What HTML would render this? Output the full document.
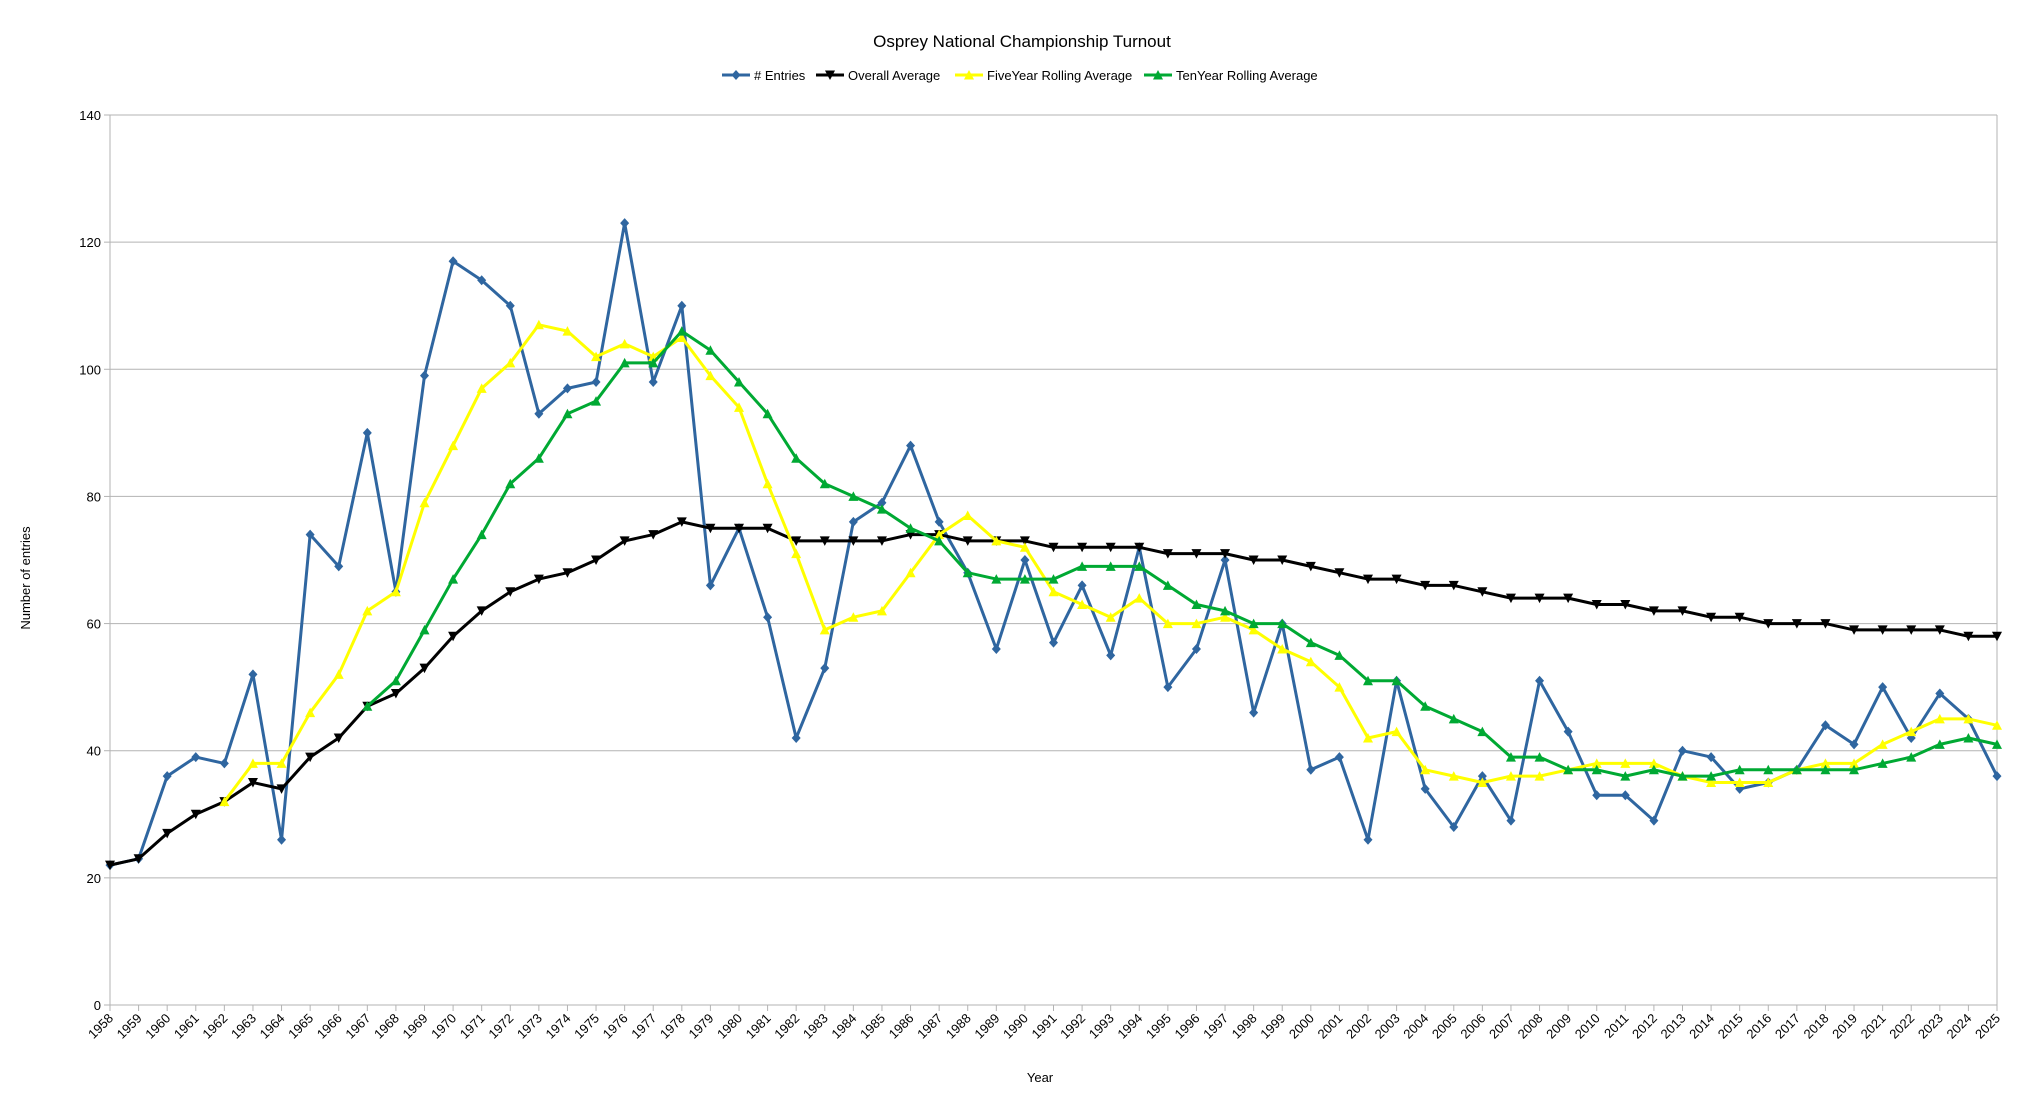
<!DOCTYPE html>
<html><head><meta charset="utf-8"><title>Osprey National Championship Turnout</title>
<style>html,body{margin:0;padding:0;background:#fff;}svg{display:block;font-family:"Liberation Sans",Arial,sans-serif;}</style>
</head><body>
<svg id="chart" width="2044" height="1105" viewBox="0 0 2044 1105" xmlns="http://www.w3.org/2000/svg">
<text x="1022" y="47" font-size="17" text-anchor="middle" fill="#000">Osprey National Championship Turnout</text>
<g id="legend"></g>
<g id="grid"></g>
<g id="axes"></g>
<g id="series"></g>
<text x="1040" y="1082" font-size="13" text-anchor="middle" fill="#000">Year</text>
<text transform="translate(30,578) rotate(-90)" font-size="13" text-anchor="middle" fill="#000">Number of entries</text>
</svg>
<script>
const years = ["1958","1959","1960","1961","1962","1963","1964","1965","1966","1967","1968","1969","1970","1971","1972","1973","1974","1975","1976","1977","1978","1979","1980","1981","1982","1983","1984","1985","1986","1987","1988","1989","1990","1991","1992","1993","1994","1995","1996","1997","1998","1999","2000","2001","2002","2003","2004","2005","2006","2007","2008","2009","2010","2011","2012","2013","2014","2015","2016","2017","2018","2019","2021","2022","2023","2024","2025"];
const entries = [22,23,36,39,38,52,26,74,69,90,65,99,117,114,110,93,97,98,123,98,110,66,75,61,42,53,76,79,88,76,68,56,70,57,66,55,72,50,56,70,46,60,37,39,26,51,34,28,36,29,51,43,33,33,29,40,39,34,35,37,44,41,50,42,49,45,36];
const overallAvg = [22,23,27,30,32,35,34,39,42,47,49,53,58,62,65,67,68,70,73,74,76,75,75,75,73,73,73,73,74,74,73,73,73,72,72,72,72,71,71,71,70,70,69,68,67,67,66,66,65,64,64,64,63,63,62,62,61,61,60,60,60,59,59,59,59,58,58];
const fiveYear = [null,null,null,null,32,38,38,46,52,62,65,79,88,97,101,107,106,102,104,102,105,99,94,82,71,59,61,62,68,74,77,73,72,65,63,61,64,60,60,61,59,56,54,50,42,43,37,36,35,36,36,37,38,38,38,36,35,35,35,37,38,38,41,43,45,45,44];
const tenYear = [null,null,null,null,null,null,null,null,null,47,51,59,67,74,82,86,93,95,101,101,106,103,98,93,86,82,80,78,75,73,68,67,67,67,69,69,69,66,63,62,60,60,57,55,51,51,47,45,43,39,39,37,37,36,37,36,36,37,37,37,37,37,38,39,41,42,41];
const yTicks = [0,20,40,60,80,100,120,140];

const NS = "http://www.w3.org/2000/svg";
const X0 = 110, X1 = 1997, Y0 = 1005, Y1 = 115, YMAX = 140;
function xScale(i){ return X0 + (X1 - X0) * i / (years.length - 1); }
function yScale(v){ return Y0 - (Y0 - Y1) * v / YMAX; }
function mk(tag, attrs, parent){ const e = document.createElementNS(NS, tag); for (const k in attrs) e.setAttribute(k, attrs[k]); parent.appendChild(e); return e; }

const grid = document.getElementById('grid');
const axes = document.getElementById('axes');
yTicks.forEach(t => {
  const y = yScale(t);
  if (t > 0) {
    const gl = mk('line', {x1: X0, x2: X1, y1: y, y2: y, stroke: '#b3b3b3', 'stroke-width': 1}, grid);
    
    
  }
  const tk = mk('line', {x1: X0 - 6, x2: X0, y1: y, y2: y, stroke: '#b3b3b3', 'stroke-width': 1}, axes);
  
  
  const lb = mk('text', {x: X0 - 9, y: y + 5, 'font-size': 13, 'text-anchor': 'end', fill: '#000'}, axes);
  lb.textContent = t;
  
  
});
const ax = mk('line', {x1: X0, x2: X0, y1: Y1, y2: Y0, stroke: '#b3b3b3', 'stroke-width': 1}, axes);


const ax2 = mk('line', {x1: X1, x2: X1, y1: Y1, y2: Y0, stroke: '#b3b3b3', 'stroke-width': 1}, axes);


const xa = mk('line', {x1: X0, x2: X1, y1: Y0, y2: Y0, stroke: '#b3b3b3', 'stroke-width': 1}, axes);


years.forEach((yr, i) => {
  const x = xScale(i);
  const tk = mk('line', {x1: x, x2: x, y1: Y0, y2: Y0 + 6, stroke: '#b3b3b3', 'stroke-width': 1}, axes);
  
  
  const lb = mk('text', {transform: 'translate(' + (x + 4) + ',' + (Y0 + 14) + ') rotate(-45)', 'font-size': 13, 'text-anchor': 'end', fill: '#000'}, axes);
  lb.textContent = yr;
  
  
});

function marker(type, x, y, color, parent){
  let d;
  if (type === 'diamond') d = `M${x},${y-5}L${x+4.5},${y}L${x},${y+5}L${x-4.5},${y}Z`;
  else if (type === 'down') d = `M${x-5},${y-4.5}L${x+5},${y-4.5}L${x},${y+5}Z`;
  else d = `M${x-5},${y+4.5}L${x+5},${y+4.5}L${x},${y-5}Z`;
  return mk('path', {d: d, fill: color}, parent);
}

const seriesEl = document.getElementById('series');
const defs = [
  {name: 'entries', data: entries, color: '#2f66a0', m: 'diamond'},
  {name: 'overall-average', data: overallAvg, color: '#000000', m: 'down'},
  {name: 'five-year-rolling-average', data: fiveYear, color: '#ffff00', m: 'up'},
  {name: 'ten-year-rolling-average', data: tenYear, color: '#00a933', m: 'up'}
];
defs.forEach(s => {
  const g = mk('g', {}, seriesEl);
  
  
  let d = '';
  s.data.forEach((v, i) => { if (v == null) return; d += (d ? 'L' : 'M') + xScale(i) + ',' + yScale(v); });
  const p = mk('path', {d: d, fill: 'none', stroke: s.color, 'stroke-width': 3, 'stroke-linejoin': 'round'}, g);
  
  
  s.data.forEach((v, i) => {
    if (v == null) return;
    const m = marker(s.m, xScale(i), yScale(v), s.color, g);
    
    
  });
});

const legend = document.getElementById('legend');
const legendItems = [
  {label: '# Entries', color: '#2f66a0', m: 'diamond', x: 722},
  {label: 'Overall Average', color: '#000000', m: 'down', x: 816},
  {label: 'FiveYear Rolling Average', color: '#ffff00', m: 'up', x: 955},
  {label: 'TenYear Rolling Average', color: '#00a933', m: 'up', x: 1144}
];
legendItems.forEach(it => {
  const g = mk('g', {}, legend);
  
  
  mk('line', {x1: it.x, x2: it.x + 28, y1: 75, y2: 75, stroke: it.color, 'stroke-width': 3}, g);
  marker(it.m, it.x + 14, 75, it.color, g);
  const t = mk('text', {x: it.x + 32, y: 80, 'font-size': 13, fill: '#000'}, g);
  t.textContent = it.label;
});
</script>
</body></html>
